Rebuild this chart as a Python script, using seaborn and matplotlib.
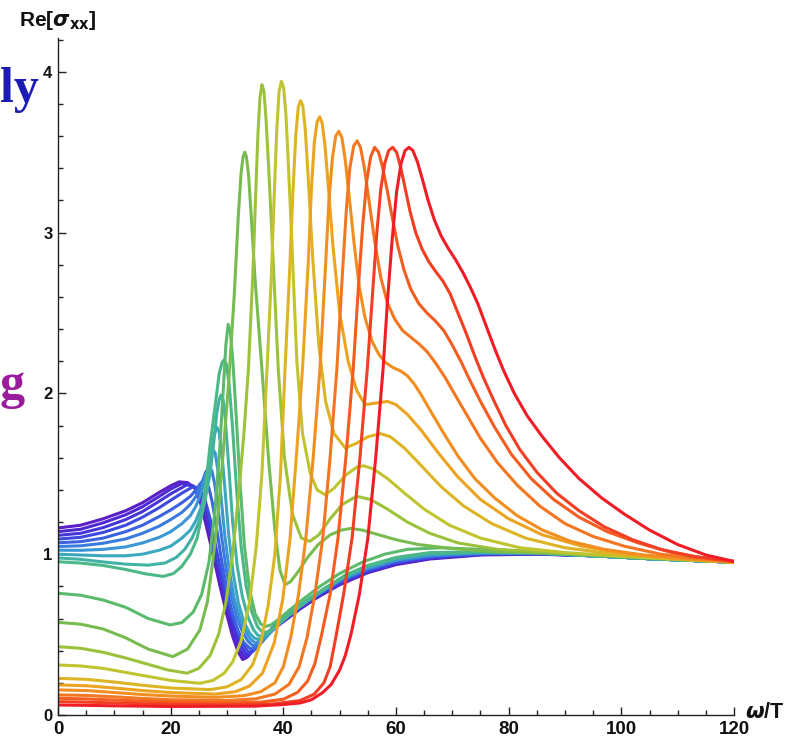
import numpy as np
import pandas as pd
import matplotlib
matplotlib.use("Agg")
import matplotlib.pyplot as plt
import seaborn as sns

# Re[sigma_xx] versus omega/T; every list holds (omega/T, Re sigma_xx) samples of one curve.

# violet -> teal family: dip near omega/T ~ 33
sigma_01 = [(0, 1.163), (4, 1.18), (8, 1.22), (12, 1.27), (15, 1.32), (18, 1.385), (20, 1.425), (21.5, 1.45),
            (23, 1.445), (24.3, 1.41), (25.3, 1.32), (26.3, 1.18), (27.5, 1.0), (28.7, 0.81), (30, 0.62), (31, 0.49),
            (32, 0.39), (32.8, 0.345), (33.6, 0.36), (34.5, 0.41), (36, 0.47), (38, 0.53), (40, 0.58), (43, 0.66),
            (46, 0.73), (50, 0.81), (55, 0.885), (60, 0.935), (66, 0.97), (75, 0.995), (85, 1.0), (95, 0.99),
            (105, 0.972), (120, 0.95)]
sigma_02 = [(0, 1.14), (4, 1.155), (8, 1.195), (12, 1.245), (15, 1.295), (18, 1.36), (20, 1.405), (22, 1.44),
            (23.3, 1.435), (24.5, 1.41), (25.5, 1.34), (26.5, 1.21), (27.7, 1.03), (28.9, 0.84), (30.2, 0.645),
            (31.2, 0.515), (32.2, 0.41), (33.1, 0.36), (33.9, 0.37), (34.8, 0.415), (36.2, 0.475), (38, 0.535),
            (40, 0.585), (43, 0.665), (46, 0.735), (50, 0.815), (55, 0.89), (60, 0.94), (66, 0.975), (75, 0.998),
            (85, 1.002), (95, 0.99), (105, 0.972), (120, 0.95)]
sigma_03 = [(0, 1.117), (4, 1.13), (8, 1.165), (12, 1.215), (15, 1.265), (18, 1.33), (20, 1.375), (22.8, 1.43),
            (24, 1.425), (25, 1.39), (26, 1.3), (27, 1.16), (28, 1.0), (29.2, 0.81), (30.5, 0.64), (31.5, 0.52),
            (32.5, 0.43), (33.4, 0.375), (34.2, 0.385), (35.1, 0.42), (36.4, 0.48), (38, 0.54), (40, 0.59),
            (43, 0.67), (46, 0.74), (50, 0.82), (55, 0.895), (60, 0.945), (66, 0.978), (75, 1.0), (85, 1.003),
            (95, 0.99), (105, 0.972), (120, 0.95)]
sigma_04 = [(0, 1.094), (4, 1.105), (8, 1.135), (12, 1.18), (15, 1.23), (18, 1.29), (20, 1.335), (22, 1.38),
            (24, 1.42), (25, 1.41), (26, 1.35), (27, 1.22), (28, 1.05), (29.2, 0.85), (30.5, 0.67), (31.6, 0.55),
            (32.7, 0.45), (33.8, 0.39), (34.6, 0.395), (35.5, 0.43), (36.7, 0.485), (38.2, 0.545), (40, 0.595),
            (43, 0.675), (46, 0.745), (50, 0.825), (55, 0.9), (60, 0.95), (66, 0.982), (75, 1.002), (85, 1.004),
            (95, 0.99), (105, 0.972), (120, 0.95)]
sigma_05 = [(0, 1.071), (4, 1.078), (8, 1.1), (12, 1.14), (15, 1.18), (18, 1.235), (20, 1.275), (22, 1.32),
            (23.5, 1.36), (24.5, 1.4), (25.2, 1.435), (25.8, 1.46), (26.3, 1.45), (26.8, 1.41), (27.4, 1.32),
            (28.2, 1.15), (29, 0.97), (30, 0.78), (31, 0.63), (32, 0.52), (33, 0.45), (34.2, 0.41), (35, 0.415),
            (36, 0.445), (37.2, 0.495), (38.5, 0.55), (40, 0.6), (43, 0.68), (46, 0.75), (50, 0.83), (55, 0.905),
            (60, 0.955), (66, 0.985), (75, 1.004), (85, 1.005), (95, 0.99), (105, 0.972), (120, 0.95)]
sigma_06 = [(0, 1.048), (4, 1.052), (8, 1.068), (12, 1.095), (15, 1.13), (18, 1.175), (20, 1.215), (22, 1.26),
            (23.5, 1.31), (24.5, 1.36), (25.5, 1.44), (26.2, 1.51), (26.8, 1.54), (27.3, 1.52), (27.8, 1.44),
            (28.3, 1.32), (29, 1.12), (29.8, 0.92), (30.7, 0.75), (31.7, 0.61), (32.7, 0.52), (33.7, 0.46),
            (34.6, 0.43), (35.4, 0.435), (36.3, 0.46), (37.5, 0.505), (39, 0.56), (41, 0.62), (43.5, 0.69),
            (46.5, 0.76), (50, 0.835), (55, 0.91), (60, 0.96), (66, 0.99), (75, 1.006), (85, 1.006), (95, 0.99),
            (105, 0.972), (120, 0.95)]
sigma_07 = [(0, 1.025), (4, 1.024), (8, 1.03), (12, 1.045), (15, 1.07), (18, 1.105), (20, 1.14), (22, 1.19),
            (23.5, 1.24), (24.5, 1.3), (25.5, 1.39), (26.5, 1.52), (27.1, 1.61), (27.5, 1.65), (27.9, 1.63),
            (28.4, 1.52), (28.9, 1.37), (29.6, 1.12), (30.4, 0.9), (31.3, 0.72), (32.3, 0.6), (33.3, 0.52),
            (34.2, 0.47), (35, 0.45), (35.8, 0.455), (36.7, 0.48), (38, 0.525), (39.5, 0.575), (41.5, 0.635),
            (44, 0.7), (47, 0.77), (50, 0.84), (55, 0.915), (60, 0.965), (66, 0.995), (75, 1.008), (85, 1.007),
            (95, 0.99), (105, 0.972), (120, 0.95)]
sigma_08 = [(0, 1.0), (4, 0.995), (8, 0.99), (12, 0.99), (15, 1.0), (18, 1.025), (20, 1.05), (22, 1.1),
            (23.5, 1.15), (24.5, 1.21), (25.5, 1.3), (26.5, 1.45), (27.2, 1.62), (27.7, 1.74), (28.2, 1.79),
            (28.6, 1.76), (29.1, 1.62), (29.6, 1.42), (30.3, 1.12), (31.1, 0.88), (32, 0.7), (33, 0.58), (34, 0.51),
            (34.8, 0.48), (35.5, 0.47), (36.3, 0.48), (37.3, 0.51), (38.6, 0.555), (40, 0.6), (42, 0.655),
            (44.5, 0.72), (47.5, 0.79), (51, 0.86), (55, 0.92), (60, 0.97), (66, 1.0), (75, 1.01), (85, 1.008),
            (95, 0.99), (105, 0.972), (120, 0.95)]
sigma_09 = [(0, 0.977), (4, 0.968), (8, 0.952), (12, 0.938), (16, 0.932), (19, 0.945), (21, 0.98), (22.5, 1.03),
            (23.8, 1.1), (25, 1.2), (26, 1.32), (27, 1.5), (27.6, 1.68), (28.2, 1.88), (28.6, 1.96), (28.95, 1.99),
            (29.3, 1.96), (29.7, 1.84), (30.3, 1.55), (31, 1.2), (31.8, 0.93), (32.7, 0.74), (33.7, 0.61),
            (34.7, 0.53), (35.5, 0.495), (36.3, 0.49), (37.2, 0.505), (38.3, 0.54), (39.7, 0.585), (41.5, 0.64),
            (44, 0.71), (47, 0.78), (50.5, 0.855), (55, 0.925), (60, 0.975), (66, 1.005), (75, 1.012), (85, 1.008),
            (95, 0.99), (105, 0.972), (120, 0.95)]
sigma_10 = [(0, 0.953), (4, 0.945), (8, 0.93), (12, 0.905), (15.5, 0.878), (18.7, 0.862), (20.5, 0.88),
            (22, 0.925), (23.5, 1.0), (24.7, 1.1), (25.8, 1.29), (27, 1.68), (28, 1.95), (28.6, 2.12), (29.1, 2.19),
            (29.5, 2.21), (29.9, 2.18), (30.4, 2.05), (31, 1.78), (31.7, 1.4), (32.5, 1.05), (33.4, 0.8),
            (34.4, 0.64), (35.4, 0.55), (36.4, 0.51), (37.4, 0.52), (38.6, 0.55), (40, 0.59), (42, 0.65),
            (44.5, 0.72), (47.5, 0.79), (51, 0.87), (55, 0.93), (60, 0.98), (66, 1.01), (75, 1.015), (85, 1.01),
            (95, 0.99), (105, 0.972), (120, 0.95)]

# green -> red family: tall resonance moving to higher omega/T
sigma_11 = [(0, 0.757), (4, 0.745), (8, 0.715), (12, 0.67), (16, 0.6), (19.9, 0.56), (22, 0.575), (24, 0.64),
            (25.5, 0.75), (26.8, 0.95), (27.8, 1.25), (28.7, 1.65), (29.3, 2.0), (29.8, 2.3), (30.2, 2.43),
            (30.6, 2.38), (31.1, 2.17), (31.6, 1.88), (32.3, 1.45), (33.1, 1.05), (34, 0.78), (35, 0.63),
            (36, 0.565), (36.8, 0.55), (37.8, 0.56), (39, 0.59), (41, 0.65), (43.5, 0.72), (46.5, 0.8), (50, 0.88),
            (54, 0.95), (58, 1.0), (62, 1.03), (68, 1.04), (75, 1.03), (85, 1.015), (95, 0.995), (105, 0.975),
            (120, 0.95)]
sigma_12 = [(0, 0.576), (4, 0.565), (8, 0.535), (12, 0.48), (16, 0.41), (20.4, 0.363), (23, 0.41), (25.2, 0.53),
            (26.5, 0.7), (27.5, 0.96), (28.4, 1.25), (29.3, 1.62), (30.4, 2.12), (31.3, 2.62), (32, 3.1),
            (32.5, 3.37), (32.85, 3.47), (33.15, 3.5), (33.45, 3.47), (33.85, 3.35), (34.3, 3.1), (35, 2.7),
            (36.2, 2.15), (37.4, 1.58), (38.5, 1.15), (39.4, 0.9), (40.3, 0.81), (41.3, 0.83), (42.6, 0.89),
            (44.3, 0.98), (46.2, 1.06), (48.3, 1.12), (50.3, 1.15), (52, 1.16), (54, 1.15), (57, 1.12), (60, 1.09),
            (64, 1.06), (70, 1.035), (78, 1.015), (88, 1.005), (98, 0.99), (108, 0.972), (120, 0.95)]
sigma_13 = [(0, 0.425), (4, 0.415), (8, 0.39), (12, 0.355), (16, 0.315), (19.5, 0.28), (22.9, 0.26), (25, 0.29),
            (27, 0.37), (28.5, 0.5), (29.8, 0.7), (31, 1.0), (32, 1.35), (33, 1.75), (33.8, 2.15), (34.6, 2.75),
            (35.1, 3.25), (35.5, 3.62), (35.85, 3.84), (36.2, 3.92), (36.55, 3.88), (36.9, 3.72), (37.4, 3.4),
            (38.2, 2.82), (39.1, 2.15), (40.2, 1.6), (41.6, 1.25), (43.2, 1.1), (44.7, 1.08), (46.3, 1.12),
            (48.3, 1.22), (50.5, 1.31), (53, 1.36), (55.5, 1.34), (58.5, 1.28), (62, 1.2), (66, 1.13), (71, 1.07),
            (78, 1.03), (88, 1.01), (98, 0.99), (108, 0.972), (120, 0.95)]
sigma_14 = [(0, 0.311), (4, 0.305), (8, 0.29), (12, 0.265), (16, 0.24), (20, 0.215), (25.2, 0.197),
            (27.5, 0.215), (29.5, 0.26), (31, 0.33), (32.5, 0.46), (34, 0.7), (35.2, 1.05), (36.2, 1.5), (37.1, 2.15),
            (37.9, 2.75), (38.4, 3.25), (38.85, 3.65), (39.25, 3.88), (39.65, 3.94), (40.05, 3.9), (40.45, 3.74),
            (40.9, 3.42), (41.5, 2.95), (42.4, 2.2), (43.4, 1.75), (44.8, 1.5), (46, 1.4), (47.4, 1.37), (49, 1.41),
            (51, 1.49), (53, 1.54), (54.2, 1.55), (56, 1.53), (58.5, 1.47), (61.5, 1.38), (65, 1.28), (69.5, 1.18),
            (75, 1.1), (82, 1.04), (90, 1.01), (99, 0.99), (108, 0.972), (120, 0.95)]
sigma_15 = [(0, 0.228), (5, 0.222), (10, 0.205), (15, 0.185), (20, 0.168), (27, 0.158), (30, 0.175),
            (32.5, 0.22), (34.5, 0.31), (36, 0.45), (37.3, 0.68), (38.5, 1.0), (39.5, 1.5), (40.3, 2.15),
            (41.1, 2.75), (41.7, 3.25), (42.2, 3.6), (42.65, 3.78), (43.05, 3.82), (43.45, 3.79), (43.9, 3.64),
            (44.4, 3.35), (45.2, 2.85), (46.3, 2.3), (47.5, 1.95), (49, 1.75), (51, 1.66), (53, 1.69), (55, 1.73),
            (57.2, 1.75), (59, 1.73), (61.5, 1.66), (64.5, 1.55), (68, 1.42), (72, 1.3), (77, 1.19), (83, 1.1),
            (90, 1.04), (99, 1.0), (108, 0.975), (120, 0.95)]
sigma_16 = [(0, 0.187), (5, 0.182), (10, 0.168), (15, 0.152), (20, 0.14), (28, 0.13), (31.5, 0.145), (34, 0.18),
            (36.3, 0.26), (38.4, 0.45), (39.9, 0.72), (41.2, 1.1), (42.4, 1.65), (43.4, 2.15), (44.4, 2.8),
            (45, 3.28), (45.5, 3.56), (46, 3.69), (46.45, 3.72), (46.9, 3.68), (47.4, 3.54), (48, 3.28),
            (48.8, 2.92), (50, 2.5), (51.5, 2.2), (53, 2.02), (54.5, 1.93), (56.5, 1.94), (58.5, 1.95), (60, 1.93),
            (62, 1.87), (64.5, 1.77), (67.5, 1.63), (71, 1.48), (75, 1.34), (80, 1.22), (86, 1.12), (93, 1.05),
            (101, 1.0), (110, 0.975), (120, 0.95)]
sigma_17 = [(0, 0.156), (5, 0.152), (10, 0.14), (15, 0.127), (20, 0.118), (28, 0.11), (33, 0.12), (36, 0.145),
            (38.5, 0.2), (40, 0.3), (41.3, 0.48), (42.7, 0.75), (44, 1.1), (45.3, 1.6), (46.5, 2.15), (47.5, 2.8),
            (48.1, 3.2), (48.7, 3.46), (49.3, 3.6), (49.85, 3.63), (50.4, 3.59), (51, 3.45), (51.7, 3.22),
            (52.6, 2.92), (53.5, 2.66), (54.5, 2.47), (55.8, 2.32), (57, 2.24), (58.2, 2.19), (59.5, 2.16),
            (60.8, 2.14), (62, 2.11), (63.2, 2.06), (64.5, 1.99), (66.3, 1.88), (68.5, 1.75), (71, 1.61), (74, 1.47),
            (77.5, 1.35), (81.5, 1.24), (86, 1.15), (91, 1.08), (97, 1.03), (104, 0.995), (111, 0.972),
            (120, 0.952)]
sigma_18 = [(0, 0.125), (5, 0.122), (10, 0.113), (15, 0.103), (20, 0.095), (30, 0.09), (35, 0.1), (38.5, 0.13),
            (41, 0.19), (42.8, 0.3), (44.2, 0.48), (45.6, 0.75), (47, 1.1), (48.3, 1.6), (49.5, 2.15), (50.5, 2.75),
            (51.2, 3.15), (51.8, 3.4), (52.5, 3.54), (53.1, 3.57), (53.7, 3.53), (54.4, 3.4), (55.2, 3.2),
            (56.2, 2.95), (57.3, 2.72), (58.5, 2.56), (59.8, 2.46), (61.2, 2.39), (62.6, 2.35), (64, 2.31),
            (65.5, 2.26), (67, 2.19), (68.7, 2.1), (70.5, 1.99), (72.5, 1.87), (75, 1.72), (78, 1.57), (81.5, 1.43),
            (85.5, 1.3), (90, 1.19), (95, 1.11), (100.5, 1.05), (107, 1.0), (113, 0.975), (120, 0.952)]
sigma_19 = [(0, 0.104), (5, 0.1), (10, 0.093), (15, 0.086), (20, 0.08), (30, 0.075), (36, 0.08), (40, 0.098),
            (42.5, 0.14), (44.3, 0.21), (45.6, 0.32), (46.8, 0.5), (48.3, 0.75), (49.7, 1.1), (51.1, 1.6),
            (52.4, 2.15), (53.4, 2.7), (54.1, 3.05), (54.8, 3.32), (55.5, 3.47), (56.2, 3.53), (56.9, 3.5),
            (57.6, 3.41), (58.4, 3.27), (59.3, 3.1), (60.3, 2.92), (61.4, 2.77), (62.6, 2.65), (64, 2.56),
            (65.5, 2.5), (67, 2.45), (68.5, 2.39), (70, 2.3), (71.5, 2.2), (73, 2.09), (75, 1.95), (77.5, 1.79),
            (80.5, 1.62), (84, 1.47), (88, 1.34), (92.5, 1.23), (97.5, 1.14), (103, 1.07), (109, 1.01), (114, 0.98),
            (120, 0.955)]
sigma_20 = [(0, 0.083), (5, 0.08), (10, 0.075), (15, 0.07), (20, 0.066), (30, 0.063), (38, 0.068), (43, 0.09),
            (45.5, 0.13), (47.2, 0.2), (48.3, 0.3), (49.3, 0.48), (50.7, 0.75), (52.2, 1.1), (53.6, 1.6),
            (54.9, 2.15), (55.9, 2.65), (56.6, 3.0), (57.3, 3.27), (58, 3.43), (58.7, 3.51), (59.4, 3.53),
            (60.1, 3.5), (60.8, 3.41), (61.6, 3.28), (62.5, 3.13), (63.5, 3.0), (64.6, 2.9), (65.8, 2.82),
            (67, 2.76), (68.3, 2.7), (69.6, 2.62), (71, 2.5), (72.5, 2.37), (74, 2.23), (75.5, 2.1), (77.3, 1.96),
            (79.5, 1.8), (82, 1.65), (85, 1.51), (88.5, 1.38), (92.5, 1.27), (97, 1.17), (102, 1.09), (107, 1.03),
            (113, 0.985), (120, 0.955)]
sigma_21 = [(0, 0.062), (5, 0.06), (10, 0.057), (20, 0.053), (35, 0.055), (40, 0.065), (43, 0.075), (45, 0.095),
            (47, 0.14), (48.5, 0.19), (50, 0.28), (51, 0.37), (52, 0.5), (53.5, 0.75), (55, 1.1), (56.4, 1.6),
            (57.7, 2.15), (58.5, 2.58), (59.3, 2.95), (60.1, 3.25), (60.9, 3.43), (61.6, 3.51), (62.3, 3.53),
            (63, 3.51), (63.8, 3.44), (64.7, 3.33), (65.7, 3.2), (66.8, 3.08), (68, 2.98), (69.3, 2.9), (70.6, 2.83),
            (71.9, 2.75), (73.2, 2.66), (74.5, 2.56), (76, 2.42), (77.5, 2.28), (79, 2.15), (81, 2.0), (83.3, 1.86),
            (86, 1.73), (89, 1.6), (92.5, 1.47), (96.5, 1.35), (100.5, 1.25), (105, 1.15), (110, 1.06),
            (115, 0.995), (120, 0.955)]

curves = [sigma_01, sigma_02, sigma_03, sigma_04, sigma_05, sigma_06, sigma_07, sigma_08, sigma_09, sigma_10,
          sigma_11, sigma_12, sigma_13, sigma_14, sigma_15, sigma_16, sigma_17, sigma_18, sigma_19, sigma_20,
          sigma_21]

# rainbow ordering, violet first, red last
curve_colors = ["#5a1ec8", "#4e28d0", "#4536d8", "#3c4ade", "#3a62e2", "#3a7cde", "#3a96d4", "#3ca8c0",
                "#42b2a4", "#4cb888", "#5cba6c", "#78bc50", "#9cc23c", "#c0c42e", "#dcb424", "#eca420",
                "#f28e20", "#f47620", "#f45c20", "#f23e22", "#f01c26"]

x_ticks = [0, 20, 40, 60, 80, 100, 120]
y_ticks = [0, 1, 2, 3, 4]

names = [f"c{i:02d}" for i in range(1, len(curves) + 1)]
rows = [(name, w, s) for name, pts in zip(names, curves) for w, s in pts]
df = pd.DataFrame(rows, columns=["curve", "omega_T", "re_sigma"])

sns.set_theme(style="white")
plt.rcParams["font.family"] = ["Liberation Sans", "DejaVu Sans"]
plt.rcParams["mathtext.fontset"] = "dejavusans"

W, H = 787, 740
fig = plt.figure(figsize=(W / 100, H / 100), dpi=100)
ax = fig.add_axes([58 / W, 1 - 715 / H, 676 / W, (715 - 38) / H])

sns.lineplot(data=df, x="omega_T", y="re_sigma", hue="curve", hue_order=names, palette=curve_colors,
             estimator=None, sort=False, legend=False, linewidth=2.2, ax=ax,
             solid_joinstyle="round", solid_capstyle="round")

ax.set_xlim(0, 120)
ax.set_ylim(0, 4.21)
ax.set_xlabel("")
ax.set_ylabel("")
for side in ("top", "right"):
    ax.spines[side].set_visible(False)
for side in ("left", "bottom"):
    ax.spines[side].set_color("#222222")
    ax.spines[side].set_linewidth(1.0)

ax.set_xticks(x_ticks)
ax.set_xticklabels([str(t) for t in x_ticks])
ax.set_xticks(np.arange(0, 121, 5), minor=True)
ax.set_yticks(y_ticks)
ax.set_yticklabels([str(t) for t in y_ticks])
ax.set_yticks(np.arange(0, 4.21, 0.2), minor=True)
ax.tick_params(which="both", direction="in", bottom=True, left=True, colors="#222222", width=1.0)
ax.tick_params(which="major", length=6, pad=4)
ax.tick_params(which="minor", length=3.5)
ax.tick_params(axis="x", which="major", labelsize=13.5)
ax.tick_params(axis="y", which="major", labelsize=12)
for lab in ax.get_xticklabels() + ax.get_yticklabels():
    lab.set_fontweight("bold")
    lab.set_color("#111111")

fig.text(58 / W, 1 - 21 / H, r"Re[$\boldsymbol{\sigma}_{\mathbf{xx}}$]", ha="center", va="center",
         fontsize=15, fontweight="bold", color="#111111")
fig.text(745 / W, 1 - 713 / H, r"$\boldsymbol{\omega}$/T", ha="left", va="center",
         fontsize=15.5, fontweight="bold", color="#111111")

# fragments of slide text along the left edge
fig.text(0, 1 - 102 / H, "ly", ha="left", va="baseline", fontsize=36, fontweight="bold",
         family=["Liberation Serif", "DejaVu Serif"], color="#1c1cb4")
fig.text(0, 1 - 398 / H, "g", ha="left", va="baseline", fontsize=36, fontweight="bold",
         family=["Liberation Serif", "DejaVu Serif"], color="#9a1c9c")

fig.savefig("out.png", dpi=100, facecolor="white")
